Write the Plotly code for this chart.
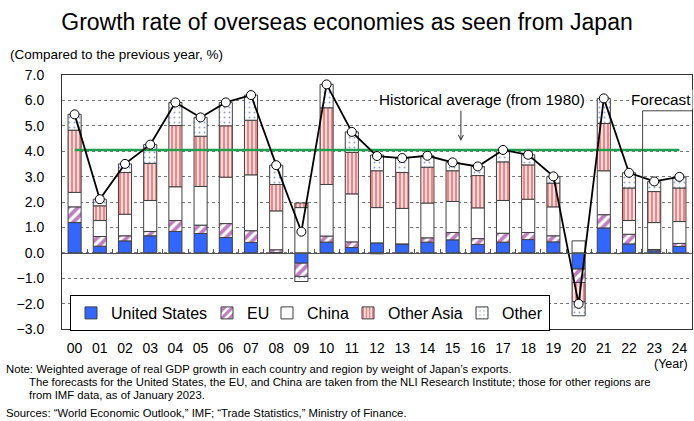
import plotly.graph_objects as go

# Years (2000-2024), 23 and 24 are forecasts
years = [f"{y:02d}" for y in range(0, 25)]

# Contribution to growth by region (percentage points)
us = [1.19, 0.26, 0.47, 0.67, 0.84, 0.76, 0.60, 0.41, 0.01, -0.41,
      0.42, 0.21, 0.39, 0.35, 0.42, 0.51, 0.33, 0.42, 0.52, 0.43,
      -0.64, 0.98, 0.35, 0.08, 0.25]
eu = [0.62, 0.38, 0.20, 0.17, 0.43, 0.33, 0.55, 0.46, 0.11, -0.52,
      0.24, 0.22, -0.04, 0.00, 0.17, 0.29, 0.23, 0.35, 0.28, 0.24,
      -0.53, 0.52, 0.38, 0.05, 0.12]
china = [0.57, 0.63, 0.85, 1.22, 1.33, 1.52, 1.83, 2.20, 1.53, 1.78,
         2.03, 1.89, 1.39, 1.40, 1.37, 1.22, 1.21, 1.29, 1.31, 1.14,
         0.47, 1.73, 0.54, 1.06, 0.86]
other_asia = [2.45, 0.58, 1.64, 1.46, 2.41, 1.98, 2.02, 2.15, 1.04, 0.18,
              3.02, 1.63, 1.45, 1.41, 1.41, 1.21, 1.27, 1.52, 1.35, 0.93,
              -0.75, 1.86, 1.28, 1.22, 1.32]
other = [0.62, 0.26, 0.34, 0.74, 0.91, 0.74, 0.92, 0.99, 0.76, -0.20,
         0.92, 0.81, 0.62, 0.57, 0.45, 0.33, 0.36, 0.47, 0.40, 0.27,
         -0.56, 0.99, 0.60, 0.40, 0.44]

# Total growth rate = sum of contributions
total = [round(a + b + c + d + e, 2) for a, b, c, d, e in zip(us, eu, china, other_asia, other)]

# Historical average since 1980
hist_avg = 4.05

FONT = "Liberation Sans, Arial, sans-serif"
EDGE = "#404040"

# name, values, marker, legend entry width (px)
series = [
    ("United States", us, dict(color="#3366FF"), 91),
    ("EU", eu, dict(color="white", pattern=dict(shape="/", fgcolor="#800080", bgcolor="white", size=7, solidity=0.55)), 15),
    ("China", china, dict(color="white"), 36),
    ("Other Asia", other_asia, dict(color="white", pattern=dict(shape="|", fgcolor="#FF0000", bgcolor="white", size=4, solidity=0.6)), 69),
    ("Other", other, dict(color="white", pattern=dict(shape=".", fgcolor="#2040C0", bgcolor="white", size=5, solidity=0.12)), 42),
]

fig = go.Figure()

for name, vals, marker, lw in series:
    marker = dict(marker, line=dict(color=EDGE, width=1))
    fig.add_trace(
        go.Bar(
            x=years,
            y=vals,
            name=name,
            marker=marker,
            legendwidth=lw,
        )
    )

# Historical average line
fig.add_trace(
    go.Scatter(
        x=[years[0], years[-1]],
        y=[hist_avg, hist_avg],
        mode="lines",
        line=dict(color="#1FA050", width=2.5),
        showlegend=False,
        hoverinfo="skip",
    )
)

# Total growth line (on overlaying axis, which also draws the zero axis)
fig.add_trace(
    go.Scatter(
        x=years,
        y=total,
        xaxis="x2",
        mode="lines+markers",
        line=dict(color="black", width=1.8),
        marker=dict(color="white", size=9, line=dict(color="black", width=1)),
        showlegend=False,
    )
)

fig.update_layout(
    width=694,
    height=421,
    margin=dict(l=62, r=2, t=75, b=92),
    paper_bgcolor="white",
    plot_bgcolor="white",
    barmode="relative",
    bargap=0.48,
    font=dict(family=FONT, color="black"),
    title=dict(
        text="Growth rate of overseas economies as seen from Japan",
        x=0.5,
        xref="container",
        xanchor="center",
        y=1 - 22 / 421,
        yref="container",
        yanchor="middle",
        font=dict(size=23, family=FONT, color="black"),
    ),
    xaxis=dict(
        type="category",
        range=[-0.5, 24.5],
        showline=True,
        linecolor="#333",
        linewidth=1,
        mirror=True,
        ticks="",
        showgrid=False,
        tickfont=dict(size=14),
        ticklabelstandoff=6,
    ),
    xaxis2=dict(
        type="category",
        overlaying="x",
        anchor="free",
        position=0.3,
        range=[-0.5, 24.5],
        showline=True,
        linecolor="#555",
        linewidth=1,
        ticks="inside",
        ticklen=4,
        tickcolor="#555",
        tickson="boundaries",
        showticklabels=False,
        showgrid=False,
    ),
    yaxis=dict(
        range=[-3, 7],
        dtick=1,
        tickformat=".1f",
        showline=True,
        linecolor="#333",
        linewidth=1,
        mirror=True,
        ticks="",
        showgrid=True,
        gridcolor="#777",
        griddash="dot",
        gridwidth=1,
        zeroline=False,
        tickfont=dict(size=14),
        ticklabelstandoff=14,
    ),
    legend=dict(
        orientation="h",
        x=(70 - 62) / 630,
        xanchor="left",
        y=(329 - 295) / 254,
        yanchor="top",
        bgcolor="white",
        bordercolor="black",
        borderwidth=1,
        font=dict(size=16, family=FONT),
        traceorder="normal",
        itemclick=False,
    ),
    showlegend=True,
)

# Forecast bracket
fig.add_shape(type="line", xref="x", yref="y", x0=22.54, x1=22.54, y0=-0.05, y1=5.59,
              line=dict(color="#444", width=1))
fig.add_shape(type="line", xref="x", yref="y", x0=22.54, x1=24.5, y0=5.59, y1=5.59,
              line=dict(color="#444", width=1))

note_font = dict(size=11.3, family=FONT)
annotations = [
    dict(text="(Compared to the previous year, %)", xref="paper", yref="paper",
         x=(8 - 62) / 630, y=1 + (75 - 55) / 254, xanchor="left", yanchor="middle",
         showarrow=False, font=dict(size=13.5, family=FONT)),
    dict(text="Historical average (from 1980)", xref="x", yref="y", x=16.15, y=6.03,
         xanchor="center", yanchor="middle", showarrow=False, bgcolor="white",
         font=dict(size=15.3)),
    dict(text="", xref="x", yref="y", x=15.33, y=4.4, axref="x", ayref="y", ax=15.33, ay=5.65,
         showarrow=True, arrowhead=5, arrowsize=1, arrowwidth=1, arrowcolor="#333"),
    dict(text="Forecast", xref="paper", yref="y", x=1.002, y=6.03, xanchor="right",
         yanchor="middle", showarrow=False, bgcolor="white", font=dict(size=15.3)),
    dict(text="(Year)", xref="paper", yref="paper", x=1 - 2 / 630, y=(329 - 364) / 254,
         xanchor="right", yanchor="middle", showarrow=False, font=dict(size=12.5, family=FONT)),
    dict(text="Note: Weighted average of real GDP growth in each country and region by weight of Japan\u2019s exports.",
         xref="paper", yref="paper", x=(4 - 62) / 630, y=(329 - 369) / 254,
         xanchor="left", yanchor="middle", showarrow=False, font=note_font),
    dict(text="The forecasts for the United States, the EU, and China are taken from the NLI Research Institute; those for other regions are",
         xref="paper", yref="paper", x=(27 - 62) / 630, y=(329 - 382) / 254,
         xanchor="left", yanchor="middle", showarrow=False, font=note_font),
    dict(text="from IMF data, as of January 2023.",
         xref="paper", yref="paper", x=(27 - 62) / 630, y=(329 - 395) / 254,
         xanchor="left", yanchor="middle", showarrow=False, font=note_font),
    dict(text="Sources: \u201cWorld Economic Outlook,\u201d IMF; \u201cTrade Statistics,\u201d Ministry of Finance.",
         xref="paper", yref="paper", x=(4 - 62) / 630, y=(329 - 413) / 254,
         xanchor="left", yanchor="middle", showarrow=False, font=note_font),
]
fig.update_layout(annotations=annotations)

# remove the default page margin so the figure sits at the window's corner
fig.write_html(
    "out.html",
    config={"displayModeBar": False},
    post_script="document.body.style.margin='0px';",
)
